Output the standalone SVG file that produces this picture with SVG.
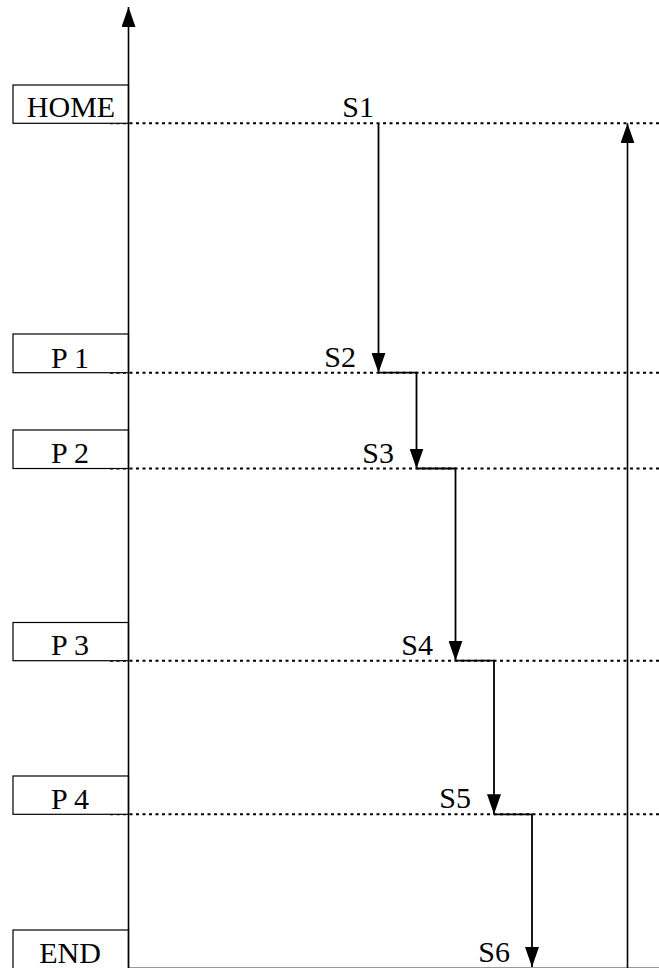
<svg xmlns="http://www.w3.org/2000/svg" width="659" height="968" viewBox="0 0 659 968">
<style>
  .box { fill: #fff; stroke: #000; stroke-width: 1.2; }
  .lbl { font-family: "Liberation Serif", "Times New Roman", serif; font-size: 30px; fill: #000; }
  .mid { text-anchor: middle; }
  .end { text-anchor: end; }
  .dot { stroke: #000; stroke-width: 2; stroke-dasharray: 3 3.5; fill: none; }
  .axis { stroke: #000; stroke-width: 1.6; fill: none; }
  .step { stroke: #000; stroke-width: 1.8; fill: none; }
</style>
<defs>
  <marker id="ah" markerUnits="userSpaceOnUse" markerWidth="20" markerHeight="14" refX="20" refY="7" orient="auto">
    <path d="M0,0 L20,7 L0,14 z" fill="#000"/>
  </marker>
</defs>
<rect width="659" height="968" fill="#fff"/>

<g id="guides">
  <line class="dot" x1="110" y1="123.3" x2="659" y2="123.3"/>
  <line class="dot" x1="110" y1="372.7" x2="659" y2="372.7"/>
  <line class="dot" x1="110" y1="468.5" x2="659" y2="468.5"/>
  <line class="dot" x1="110" y1="660.7" x2="659" y2="660.7"/>
  <line class="dot" x1="110" y1="814.3" x2="659" y2="814.3"/>
  <line x1="128" y1="967.5" x2="659" y2="967.5" stroke="#999" stroke-width="1"/>
</g>

<g id="node-home">
  <rect class="box" x="13" y="85" width="115.5" height="38.3"/>
  <text class="lbl mid" x="71" y="117">HOME</text>
</g>
<g id="node-p1">
  <rect class="box" x="13" y="334" width="115.5" height="38.7"/>
  <text class="lbl mid" x="70" y="368">P 1</text>
</g>
<g id="node-p2">
  <rect class="box" x="13" y="430" width="115.5" height="38.5"/>
  <text class="lbl mid" x="70" y="463">P 2</text>
</g>
<g id="node-p3">
  <rect class="box" x="13" y="622.5" width="115.5" height="38.2"/>
  <text class="lbl mid" x="70" y="655">P 3</text>
</g>
<g id="node-p4">
  <rect class="box" x="13" y="776" width="115.5" height="38.3"/>
  <text class="lbl mid" x="70" y="809">P 4</text>
</g>
<g id="node-end">
  <rect class="box" x="13" y="930" width="115.5" height="45"/>
  <text class="lbl mid" x="70" y="963">END</text>
</g>

<g id="step-labels">
  <text class="lbl end" x="374" y="117">S1</text>
  <text class="lbl end" x="356" y="367">S2</text>
  <text class="lbl end" x="394" y="463">S3</text>
  <text class="lbl end" x="433" y="655">S4</text>
  <text class="lbl end" x="471" y="808">S5</text>
  <text class="lbl end" x="510" y="962">S6</text>
</g>

<g id="connectors">
  <line class="axis" x1="128.5" y1="968" x2="128.5" y2="7" marker-end="url(#ah)"/>
  <line class="axis" x1="627.5" y1="968" x2="627.5" y2="123.3" marker-end="url(#ah)"/>
  <path class="step" d="M378.5,123.3 V372.7" marker-end="url(#ah)"/>
  <path class="step" d="M378.5,372.7 H416.5 V468.5" marker-end="url(#ah)"/>
  <path class="step" d="M416.5,468.5 H455.5 V660.7" marker-end="url(#ah)"/>
  <path class="step" d="M455.5,660.7 H494 V814.3" marker-end="url(#ah)"/>
  <path class="step" d="M494,814.3 H532 V967" marker-end="url(#ah)"/>
</g>
</svg>
